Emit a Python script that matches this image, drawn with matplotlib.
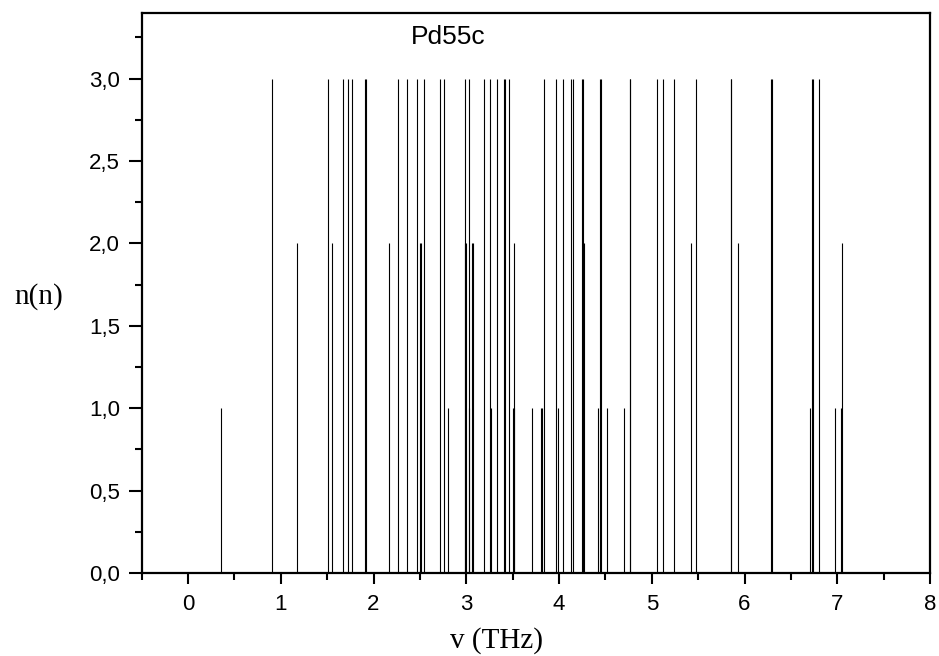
import matplotlib
matplotlib.use("Agg")
import matplotlib.pyplot as plt
from matplotlib.ticker import MultipleLocator, FuncFormatter

# Vibrational frequencies (THz) and their degeneracies
freqs = [0.350, 0.906, 1.173, 1.507, 1.557, 1.672, 1.726, 1.766, 1.912, 1.922,
         2.168, 2.268, 2.362, 2.470, 2.502, 2.512, 2.543, 2.715, 2.762, 2.805,
         2.982, 2.988, 2.998, 3.025, 3.030, 3.063, 3.073, 3.190, 3.255, 3.265,
         3.327, 3.411, 3.421, 3.460, 3.502, 3.510, 3.516, 3.704, 3.810, 3.820,
         3.837, 3.966, 3.985, 4.039, 4.128, 4.153, 4.249, 4.259, 4.272, 4.423,
         4.447, 4.457, 4.513, 4.697, 4.760, 4.770, 5.059, 5.124, 5.236, 5.419,
         5.480, 5.849, 5.859, 5.930, 6.281, 6.291, 6.710, 6.730, 6.740, 6.804,
         6.973, 7.045, 7.055]
degeneracy = [1, 3, 2, 3, 2, 3, 3, 3, 3, 3,
              2, 3, 3, 3, 2, 2, 3, 3, 3, 1,
              3, 2, 2, 1, 3, 2, 2, 3, 3, 1,
              3, 3, 3, 3, 1, 1, 2, 1, 1, 1,
              3, 3, 1, 3, 3, 3, 3, 3, 2, 1,
              3, 3, 1, 1, 3, 3, 3, 3, 3, 2,
              3, 3, 3, 2, 3, 3, 1, 3, 3, 3,
              1, 1, 2]

title = "Pd55c"
xlabel = "v (THz)"
ylabel = "n(n)"

fig = plt.figure(figsize=(9.39, 6.56), dpi=100)
ax = fig.add_axes([141.7/939, 1-573/656, (930-141.7)/939, (573-12.7)/656])

ax.vlines(freqs, 0, degeneracy, colors="black", linewidth=0.8)

ax.set_xlim(-0.5, 8)
ax.set_ylim(0, 3.4)

ax.xaxis.set_major_locator(MultipleLocator(1))
ax.xaxis.set_minor_locator(MultipleLocator(0.5))
ax.yaxis.set_major_locator(MultipleLocator(0.5))
ax.yaxis.set_minor_locator(MultipleLocator(0.25))
ax.yaxis.set_major_formatter(FuncFormatter(lambda v, p: f"{v:.1f}".replace(".", ",")))
ax.xaxis.set_major_formatter(FuncFormatter(lambda v, p: f"{v:.0f}"))

for s in ax.spines.values():
    s.set_linewidth(1.6)
    s.set_color("black")

ax.tick_params(axis="x", which="major", direction="out", length=8.2, width=1.5,
               pad=7, labelsize=16)
ax.tick_params(axis="y", which="major", direction="out", length=9.6, width=1.5,
               pad=6, labelsize=16)
ax.tick_params(which="minor", direction="out", length=4.8, width=1.5)
for lbl in ax.get_xticklabels() + ax.get_yticklabels():
    lbl.set_family("Liberation Sans")

ax.text(2.80, 3.252, title, ha="center", va="center", fontsize=19,
        family="Liberation Sans")

fig.text(39/939, 1-296.7/656, ylabel, ha="center", va="center", fontsize=21,
         family="Liberation Serif")
fig.text(496/939, 1-648/656, xlabel, ha="center", va="baseline", fontsize=21,
         family="Liberation Serif")

fig.savefig("out.png", dpi=100)
